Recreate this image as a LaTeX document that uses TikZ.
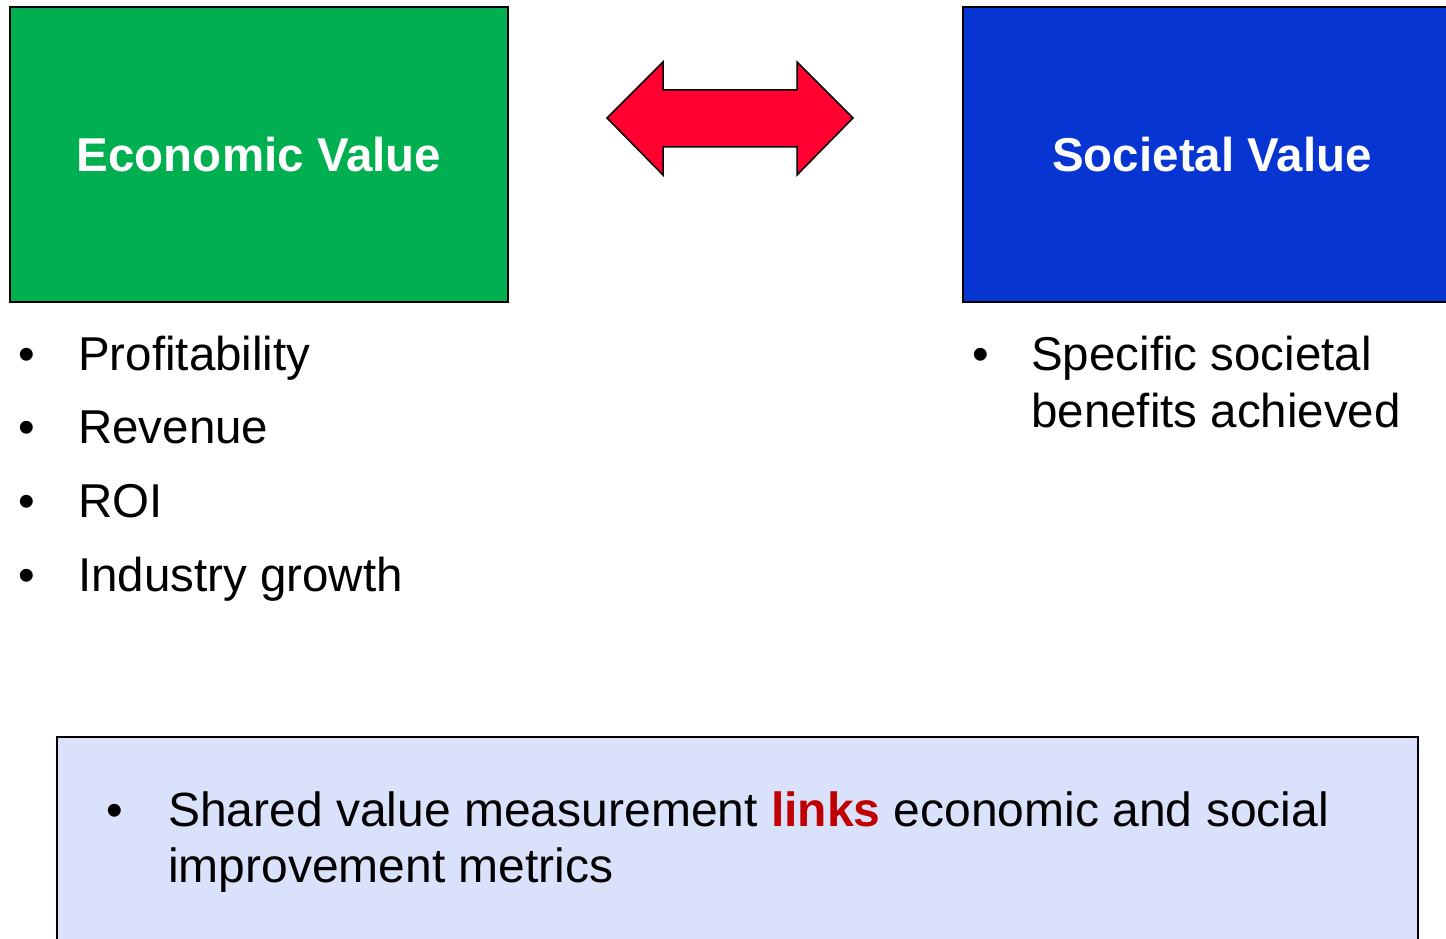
\documentclass[tikz,border=0pt]{standalone}
\usepackage{fontspec}
\setmainfont{Liberation Sans}
\usepackage{tikz}
\definecolor{econgreen}{HTML}{00AF50}
\definecolor{socblue}{HTML}{0635D1}
\definecolor{arrowred}{HTML}{FF0030}
\definecolor{sharedfill}{HTML}{D9E2FA}
\definecolor{linkred}{HTML}{C00000}

\begin{document}
\begin{tikzpicture}
  [x=1pt, y=-1pt,
   valuebox/.style={draw=black, line width=1.5pt, minimum width=498pt, minimum height=295pt,
     text=white, font=\fontsize{47.5}{56}\selectfont\bfseries},
   item/.style={anchor=base west, inner sep=0pt, font=\fontsize{47.5}{57}\selectfont},
   dot/.style={anchor=base, inner sep=0pt, font=\fontsize{47.5}{57}\selectfont}]
  \useasboundingbox (0,0) rectangle (1446,939);
  \clip (0,0) rectangle (1446,939);
  \node[valuebox, fill=econgreen] (econ) at (259,154.5) {Economic Value};
  \node[valuebox, fill=socblue] (soc) at (1212,154.5) {Societal Value};

  % double arrow between the two values
  \draw[fill=arrowred, line width=1.5pt, line join=miter]
    (607,118) -- (663,62) -- (663,90) -- (797,90) -- (797,62) -- (853,118)
    -- (797,175) -- (797,147) -- (663,147) -- (663,175) -- cycle;

  \foreach \txt [count=\i] in {Profitability, Revenue, ROI, Industry growth} {
    \node[dot] (eb\i) at (27, 296.3+73.7*\i) {\textbullet};
    \node[item] (e\i) at (78, 296.3+73.7*\i) {\txt};
  }
  \node[dot] (sb1) at (981,370) {\textbullet};
  \node[item, align=left] (s1) at (1031,427) {Specific societal\\benefits achieved};

  \node[draw=black, line width=1.5pt, fill=sharedfill, anchor=north west, inner sep=0pt,
    minimum width=1361pt, minimum height=260pt] (shared) at (56,736) {};
  \node[dot] (mb1) at (115,826) {\textbullet};
  \node[item, align=left, font=\fontsize{48}{56}\selectfont] (m1) at (168,882)
    {Shared value measurement \textcolor{linkred}{\bfseries links} economic and social\\improvement metrics};
\end{tikzpicture}
\end{document}
